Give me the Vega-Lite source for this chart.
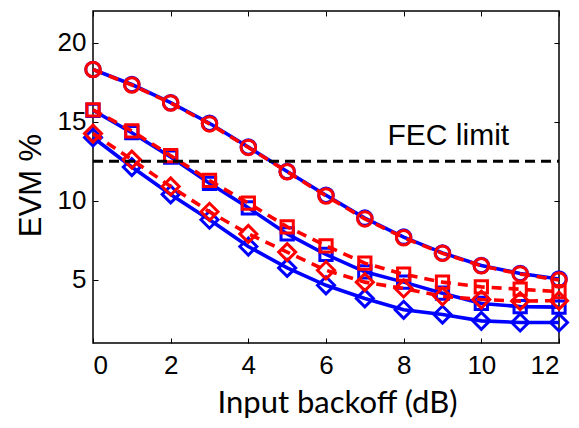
{
  "$schema": "https://vega.github.io/schema/vega-lite/v6.json",
  "width": 466,
  "height": 332,
  "autosize": {"type": "none"},
  "padding": {"left": 93, "top": 11, "right": 20, "bottom": 85},
  "background": "white",
  "config": {
    "view": {"stroke": "black", "strokeWidth": 1.5},
    "axis": {
      "grid": false,
      "domain": false,
      "tickColor": "black",
      "tickWidth": 1,
      "tickSize": -5,
      "labelFont": "Liberation Sans",
      "labelFontSize": 26,
      "labelColor": "black",
      "titleColor": "black"
    }
  },
  "layer": [
    {
      "data": {
        "values": [
          {"x": 0, "evm": 18.3, "trace": "T1", "level": "P1"},
          {"x": 1, "evm": 17.35, "trace": "T1", "level": "P1"},
          {"x": 2, "evm": 16.2, "trace": "T1", "level": "P1"},
          {"x": 3, "evm": 14.9, "trace": "T1", "level": "P1"},
          {"x": 4, "evm": 13.4, "trace": "T1", "level": "P1"},
          {"x": 5, "evm": 11.85, "trace": "T1", "level": "P1"},
          {"x": 6, "evm": 10.35, "trace": "T1", "level": "P1"},
          {"x": 7, "evm": 8.9, "trace": "T1", "level": "P1"},
          {"x": 8, "evm": 7.7, "trace": "T1", "level": "P1"},
          {"x": 9, "evm": 6.7, "trace": "T1", "level": "P1"},
          {"x": 10, "evm": 5.9, "trace": "T1", "level": "P1"},
          {"x": 11, "evm": 5.4, "trace": "T1", "level": "P1"},
          {"x": 12, "evm": 5.05, "trace": "T1", "level": "P1"},
          {"x": 0, "evm": 15.72, "trace": "T1", "level": "P2"},
          {"x": 1, "evm": 14.3, "trace": "T1", "level": "P2"},
          {"x": 2, "evm": 12.76, "trace": "T1", "level": "P2"},
          {"x": 3, "evm": 11.1, "trace": "T1", "level": "P2"},
          {"x": 4, "evm": 9.55, "trace": "T1", "level": "P2"},
          {"x": 5, "evm": 7.9, "trace": "T1", "level": "P2"},
          {"x": 6, "evm": 6.6, "trace": "T1", "level": "P2"},
          {"x": 7, "evm": 5.5, "trace": "T1", "level": "P2"},
          {"x": 8, "evm": 4.85, "trace": "T1", "level": "P2"},
          {"x": 9, "evm": 4.15, "trace": "T1", "level": "P2"},
          {"x": 10, "evm": 3.5, "trace": "T1", "level": "P2"},
          {"x": 11, "evm": 3.3, "trace": "T1", "level": "P2"},
          {"x": 12, "evm": 3.27, "trace": "T1", "level": "P2"},
          {"x": 0, "evm": 14.0, "trace": "T1", "level": "P3"},
          {"x": 1, "evm": 12.13, "trace": "T1", "level": "P3"},
          {"x": 2, "evm": 10.4, "trace": "T1", "level": "P3"},
          {"x": 3, "evm": 8.8, "trace": "T1", "level": "P3"},
          {"x": 4, "evm": 7.1, "trace": "T1", "level": "P3"},
          {"x": 5, "evm": 5.75, "trace": "T1", "level": "P3"},
          {"x": 6, "evm": 4.65, "trace": "T1", "level": "P3"},
          {"x": 7, "evm": 3.82, "trace": "T1", "level": "P3"},
          {"x": 8, "evm": 3.1, "trace": "T1", "level": "P3"},
          {"x": 9, "evm": 2.8, "trace": "T1", "level": "P3"},
          {"x": 10, "evm": 2.4, "trace": "T1", "level": "P3"},
          {"x": 11, "evm": 2.3, "trace": "T1", "level": "P3"},
          {"x": 12, "evm": 2.3, "trace": "T1", "level": "P3"},
          {"x": 0, "evm": 18.3, "trace": "T2", "level": "P1"},
          {"x": 1, "evm": 17.32, "trace": "T2", "level": "P1"},
          {"x": 2, "evm": 16.18, "trace": "T2", "level": "P1"},
          {"x": 3, "evm": 14.86, "trace": "T2", "level": "P1"},
          {"x": 4, "evm": 13.37, "trace": "T2", "level": "P1"},
          {"x": 5, "evm": 11.83, "trace": "T2", "level": "P1"},
          {"x": 6, "evm": 10.3, "trace": "T2", "level": "P1"},
          {"x": 7, "evm": 8.85, "trace": "T2", "level": "P1"},
          {"x": 8, "evm": 7.66, "trace": "T2", "level": "P1"},
          {"x": 9, "evm": 6.67, "trace": "T2", "level": "P1"},
          {"x": 10, "evm": 5.88, "trace": "T2", "level": "P1"},
          {"x": 11, "evm": 5.37, "trace": "T2", "level": "P1"},
          {"x": 12, "evm": 4.98, "trace": "T2", "level": "P1"},
          {"x": 0, "evm": 15.75, "trace": "T2", "level": "P2"},
          {"x": 1, "evm": 14.42, "trace": "T2", "level": "P2"},
          {"x": 2, "evm": 12.85, "trace": "T2", "level": "P2"},
          {"x": 3, "evm": 11.28, "trace": "T2", "level": "P2"},
          {"x": 4, "evm": 9.85, "trace": "T2", "level": "P2"},
          {"x": 5, "evm": 8.35, "trace": "T2", "level": "P2"},
          {"x": 6, "evm": 7.15, "trace": "T2", "level": "P2"},
          {"x": 7, "evm": 6.05, "trace": "T2", "level": "P2"},
          {"x": 8, "evm": 5.35, "trace": "T2", "level": "P2"},
          {"x": 9, "evm": 4.85, "trace": "T2", "level": "P2"},
          {"x": 10, "evm": 4.55, "trace": "T2", "level": "P2"},
          {"x": 11, "evm": 4.4, "trace": "T2", "level": "P2"},
          {"x": 12, "evm": 4.25, "trace": "T2", "level": "P2"},
          {"x": 0, "evm": 14.25, "trace": "T2", "level": "P3"},
          {"x": 1, "evm": 12.6, "trace": "T2", "level": "P3"},
          {"x": 2, "evm": 10.9, "trace": "T2", "level": "P3"},
          {"x": 3, "evm": 9.3, "trace": "T2", "level": "P3"},
          {"x": 4, "evm": 7.9, "trace": "T2", "level": "P3"},
          {"x": 5, "evm": 6.75, "trace": "T2", "level": "P3"},
          {"x": 6, "evm": 5.6, "trace": "T2", "level": "P3"},
          {"x": 7, "evm": 4.85, "trace": "T2", "level": "P3"},
          {"x": 8, "evm": 4.45, "trace": "T2", "level": "P3"},
          {"x": 9, "evm": 3.95, "trace": "T2", "level": "P3"},
          {"x": 10, "evm": 3.75, "trace": "T2", "level": "P3"},
          {"x": 11, "evm": 3.65, "trace": "T2", "level": "P3"},
          {"x": 12, "evm": 3.68, "trace": "T2", "level": "P3"}
        ]
      },
      "encoding": {
        "x": {
          "field": "x",
          "type": "quantitative",
          "scale": {"domain": [0, 12], "nice": false, "zero": false},
          "axis": {
            "values": [0, 2, 4, 6, 8, 10, 12],
            "title": "Input backoff (dB)",
            "titleFont": "Lato",
            "titleFontSize": 31,
            "titleFontWeight": "normal",
            "titlePadding": 10,
            "titleX": 244,
            "labelPadding": 14
          }
        },
        "y": {
          "field": "evm",
          "type": "quantitative",
          "scale": {"domain": [1, 22], "nice": false, "zero": false},
          "axis": {
            "values": [5, 10, 15, 20],
            "title": "EVM %",
            "titleFont": "Liberation Sans",
            "titleFontSize": 31,
            "titleFontWeight": "normal",
            "titlePadding": 10,
            "titleY": 174,
            "labelPadding": 12
          }
        }
      },
      "layer": [
        {
          "transform": [{"filter": "datum.trace === 'T1'"}],
          "mark": {"type": "line", "color": "#0000ff", "strokeWidth": 3.6},
          "encoding": {"detail": {"field": "level"}}
        },
        {
          "transform": [{"filter": "datum.trace === 'T1'"}],
          "mark": {"type": "point", "filled": false, "color": "#0000ff", "strokeWidth": 3, "opacity": 1},
          "encoding": {
            "shape": {"field": "level", "scale": {"domain": ["P1", "P2", "P3"], "range": ["circle", "square", "diamond"]}, "legend": null},
            "size": {
              "condition": [
                {"test": "datum.level === 'P2'", "value": 150},
                {"test": "datum.level === 'P3'", "value": 290}
              ],
              "value": 210
            }
          }
        },
        {
          "transform": [{"filter": "datum.trace === 'T2'"}],
          "mark": {"type": "line", "color": "#ff0000", "strokeWidth": 3.6, "strokeDash": [10, 7]},
          "encoding": {"detail": {"field": "level"}}
        },
        {
          "transform": [{"filter": "datum.trace === 'T2'"}],
          "mark": {"type": "point", "filled": false, "color": "#ff0000", "strokeWidth": 3, "opacity": 1},
          "encoding": {
            "shape": {"field": "level", "scale": {"domain": ["P1", "P2", "P3"], "range": ["circle", "square", "diamond"]}, "legend": null},
            "size": {
              "condition": [
                {"test": "datum.level === 'P2'", "value": 150},
                {"test": "datum.level === 'P3'", "value": 290}
              ],
              "value": 210
            }
          }
        }
      ]
    },
    {
      "data": {"values": [{"limit": 12.5, "from": 0, "to": 12}]},
      "mark": {"type": "rule", "color": "black", "strokeWidth": 3, "strokeDash": [10, 6]},
      "encoding": {
        "y": {"field": "limit", "type": "quantitative", "axis": null},
        "x": {"field": "from", "type": "quantitative", "axis": null},
        "x2": {"field": "to"}
      }
    },
    {
      "data": {"values": [{"label": "FEC limit", "x": 9.15, "evm": 14.1}]},
      "mark": {"type": "text", "font": "Liberation Sans", "fontSize": 30, "color": "black", "align": "center", "baseline": "middle"},
      "encoding": {
        "text": {"field": "label"},
        "x": {"field": "x", "type": "quantitative", "axis": null},
        "y": {"field": "evm", "type": "quantitative", "axis": null}
      }
    },
    {
      "data": {"values": [{"x": 0, "evm": 1}, {"x": 12, "evm": 22}]},
      "mark": {"type": "point", "opacity": 0},
      "encoding": {
        "x": {
          "field": "x",
          "type": "quantitative",
          "axis": {"orient": "top", "values": [0, 2, 4, 6, 8, 10, 12], "labels": false, "title": null}
        },
        "y": {
          "field": "evm",
          "type": "quantitative",
          "axis": {"orient": "right", "values": [5, 10, 15, 20], "labels": false, "title": null}
        }
      }
    }
  ],
  "resolve": {"axis": {"x": "independent", "y": "independent"}}
}
